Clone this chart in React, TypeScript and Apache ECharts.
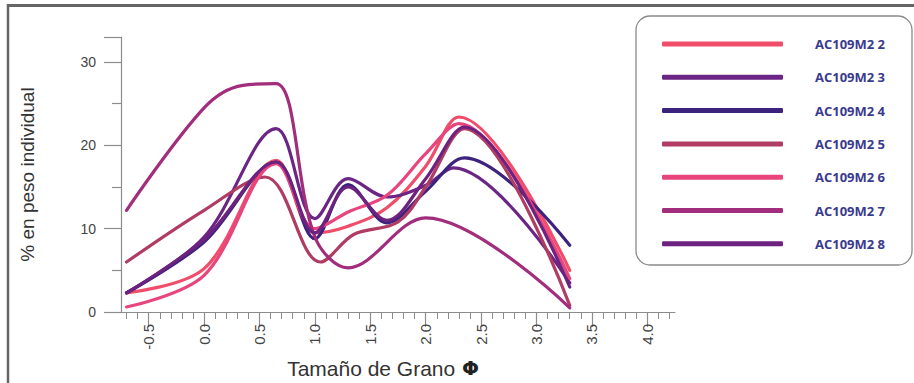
import React, { useEffect, useRef } from "react";
import * as echarts from "echarts";

const seriesNames = ["AC109M2 2", "AC109M2 3", "AC109M2 4", "AC109M2 5", "AC109M2 6", "AC109M2 7", "AC109M2 8"];
const seriesColors = ["#ef4d6a", "#6b2585", "#3e237e", "#b03c62", "#e8457c", "#a12d7c", "#6e2280"];

const s2: number[][] = [[-0.7, 2.3], [0, 5.2], [0.65, 18.2], [1.0, 9.5], [1.3, 10.3], [1.65, 12.5], [2.0, 17.5], [2.3, 23.4], [3.3, 5.0]];
const s3: number[][] = [[-0.7, 2.3], [0, 9.0], [0.65, 22.0], [1.0, 11.2], [1.3, 16.0], [1.65, 13.8], [2.0, 15.2], [2.25, 17.3], [3.3, 3.5]];
const s4: number[][] = [[-0.7, 2.3], [0, 8.4], [0.65, 18.0], [1.0, 8.8], [1.3, 15.3], [1.65, 10.7], [2.0, 14.5], [2.35, 18.5], [3.3, 8.0]];
const s5: number[][] = [[-0.7, 6.0], [0, 12.2], [0.55, 16.2], [1.05, 6.0], [1.35, 9.3], [1.75, 10.8], [2.0, 15.0], [2.35, 22.0], [3.3, 0.8]];
const s6: number[][] = [[-0.7, 0.6], [0, 4.4], [0.65, 17.8], [1.0, 10.0], [1.3, 12.0], [1.65, 14.0], [2.0, 19.0], [2.3, 22.6], [3.3, 4.0]];
const s7: number[][] = [[-0.7, 12.2], [0, 24.5], [0.35, 27.2], [0.65, 27.4], [1.0, 9.0], [1.3, 5.3], [2.0, 11.3], [3.3, 0.5]];
const s8: number[][] = [[-0.7, 2.3], [0, 8.7], [0.65, 18.0], [1.0, 9.5], [1.3, 15.0], [1.65, 11.0], [2.0, 16.0], [2.35, 22.2], [3.3, 3.0]];
const allSeries = [s2, s3, s4, s5, s6, s7, s8];

const xMajorTicks = [-0.5, 0, 0.5, 1.0, 1.5, 2.0, 2.5, 3.0, 3.5, 4.0];
const xMinorTicks: number[] = [];
for (let i = -7; i <= 42; i++) xMinorTicks.push(i / 10);

export default function App() {
  const ref = useRef<HTMLDivElement>(null);
  useEffect(() => {
    if (!ref.current) return;
    const chart = echarts.init(ref.current, null, { renderer: "svg" });
    const axisGray = "#8c8c8c";
    const xBase = {
      type: "value",
      min: -0.75,
      max: 4.25,
      position: "bottom",
      splitLine: { show: false },
    };
    chart.setOption({
      animation: false,
      backgroundColor: "#ffffff",
      grid: { left: 121, right: 239, top: 37, bottom: 71, containLabel: false, outerBoundsMode: "none" },
      xAxis: [
        {
          ...xBase,
          axisLine: { show: true, onZero: false, lineStyle: { color: axisGray, width: 1.2 } },
          axisTick: { show: true, customValues: xMajorTicks, length: 15, lineStyle: { color: axisGray, width: 1.2 } },
          axisLabel: {
            customValues: xMajorTicks,
            rotate: 90,
            formatter: (v: number) => v.toFixed(1),
            color: "#444",
            fontSize: 15,
            fontFamily: "Liberation Sans, Arial",
            margin: 12,
          },
          name: "{t|Tamaño de Grano}  {p|Φ}",
          nameLocation: "middle",
          nameGap: 45,
          nameTextStyle: {
            padding: [0, 30, 0, 0],
            rich: {
              t: { fontSize: 21, color: "#333", fontFamily: "Liberation Sans, Arial" },
              p: { fontSize: 20, color: "#222", fontWeight: "bold", fontFamily: "DejaVu Sans" },
            },
          },
        },
        {
          ...xBase,
          axisLine: { show: false, onZero: false },
          axisTick: { show: true, customValues: xMinorTicks, length: 7, lineStyle: { color: axisGray, width: 1 } },
          axisLabel: { show: false },
        },
      ],
      yAxis: {
        type: "value",
        min: 0,
        max: 33,
        interval: 10,
        splitLine: { show: false },
        axisLine: { show: true, onZero: false, lineStyle: { color: axisGray, width: 1.2 } },
        axisTick: { show: true, length: 17, lineStyle: { color: axisGray, width: 1.2 } },
        minorTick: { show: true, splitNumber: 2, length: 9, lineStyle: { color: axisGray, width: 1.2 } },
        axisLabel: { color: "#444", fontSize: 14, fontFamily: "Liberation Sans, Arial", margin: 25, showMaxLabel: false },
        name: "% en peso individual",
        nameLocation: "middle",
        nameGap: 84,
        nameTextStyle: { fontSize: 19, color: "#333", fontFamily: "Liberation Sans, Arial" },
      },
      legend: {
        orient: "vertical",
        left: 657,
        top: 31,
        data: seriesNames,
        icon: "roundRect",
        itemWidth: 121,
        itemHeight: 5,
        itemGap: 17.3,
        textStyle: {
          color: "#3a3a8f",
          fontSize: 13,
          fontWeight: "bold",
          fontFamily: "Open Sans",
          lineHeight: 16,
          padding: [0, 0, 0, 27],
        },
      },
      graphic: [
        { type: "rect", shape: { x: 636, y: 16, width: 276, height: 249, r: 14 }, style: { fill: "none", stroke: "#8a8a8a", lineWidth: 1.3 }, z: 0 },
        { type: "line", shape: { x1: 7, y1: 5.5, x2: 914, y2: 5.5 }, style: { stroke: "#666", lineWidth: 3 } },
        { type: "line", shape: { x1: 8, y1: 4, x2: 8, y2: 383 }, style: { stroke: "#666", lineWidth: 2.5 } },
      ],
      series: allSeries.map((d, i) => ({
        name: seriesNames[i],
        type: "line",
        data: d,
        smooth: 0.35,
        symbol: "none",
        color: seriesColors[i],
        lineStyle: { width: 3.2, color: seriesColors[i], cap: "round", join: "round" },
      })),
    });
    return () => chart.dispose();
  }, []);
  return <div ref={ref} style={{ width: 914, height: 383, position: "absolute", left: 0, top: 0 }} />;
}
